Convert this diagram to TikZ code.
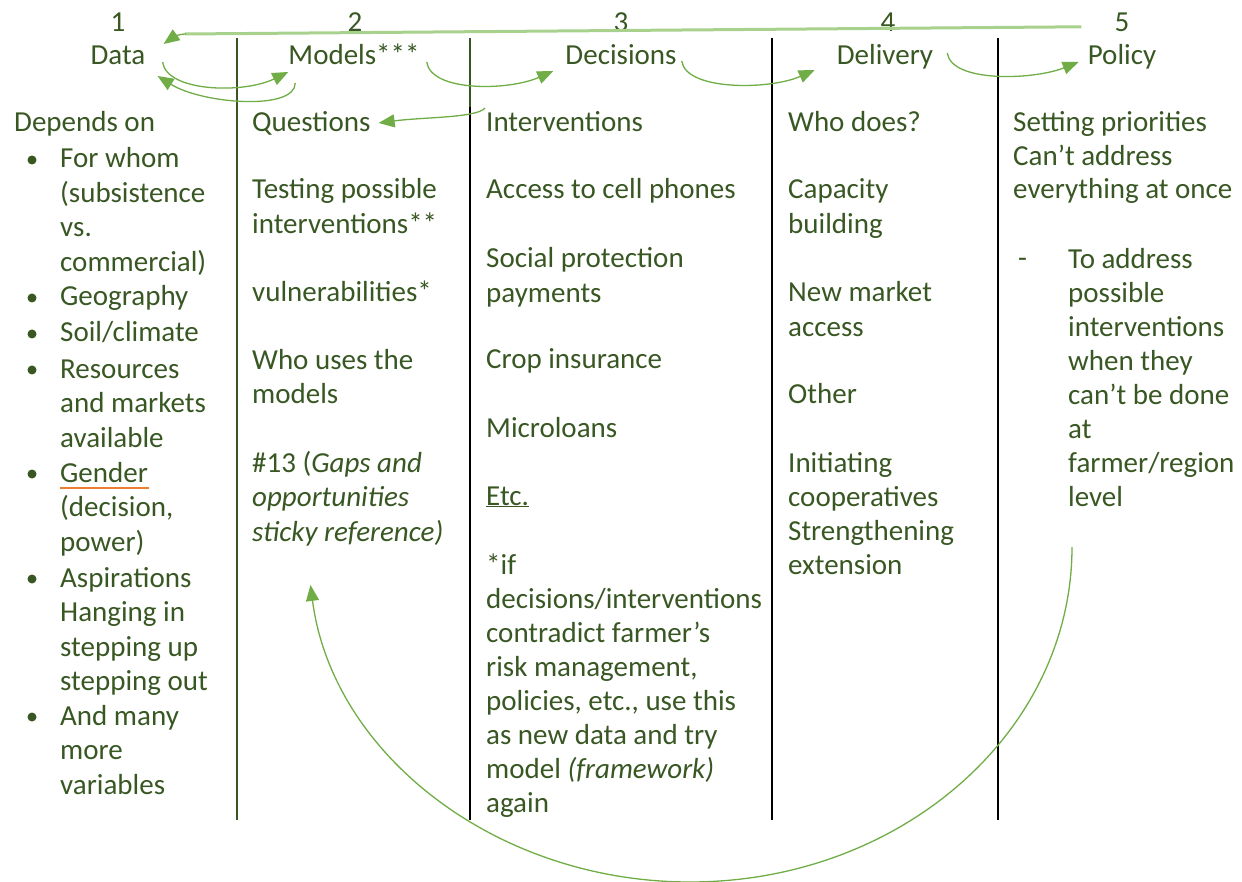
\documentclass[tikz,border=0pt]{standalone}
\usepackage{fontspec}
\setmainfont{Carlito}
\usetikzlibrary{arrows.meta,calc}

\definecolor{txtgreen}{HTML}{385723}
\definecolor{flowgreen}{HTML}{70AD47}
\definecolor{linegreen}{HTML}{A9D18E}
\definecolor{ulorange}{HTML}{ED7D31}

\begin{document}
\begin{tikzpicture}[
        x = 1pt, y = -1pt,
        line join=round,
        txt/.style = {anchor=base west, inner sep=0pt, align=left, text=txtgreen,
                      font=\fontsize{29}{34.5}\selectfont},
        head/.style = {anchor=base, inner sep=0pt, text=txtgreen,
                       font=\fontsize{29}{34.5}\selectfont},
        colrule/.style = {line width=2pt},
        flow/.style = {flowgreen, line width=1.3pt, -{Triangle[length=16pt,width=13pt]}}
    ]
        \useasboundingbox (0,0) rectangle (1242,882);

        % column numbers and titles
        \node[head] (n1) at (118,32) {1};
        \node[head] (n2) at (355,32) {2};
        \node[head] (n3) at (621,32) {3};
        \node[head] (n4) at (888,32) {4};
        \node[head] (n5) at (1122,32) {5};

        \node[head] (data) at (118,65) {Data};
        \node[head] (models) at (354,65) {Models***};
        \node[head] (decisions) at (621,65) {Decisions};
        \node[head] (delivery) at (885,65) {Delivery};
        \node[head] (policy) at (1122,65) {Policy};

        % column separators
        \draw[colrule, txtgreen] (237,38) -- (237,820);
        \draw[colrule, txtgreen] (470,38) -- (470,107);
        \draw[colrule] (470,107) -- (470,820);
        \draw[colrule] (772,38) -- (772,820);
        \draw[colrule] (998,38) -- (998,820);

        % column 1 (nodes sit on the baseline of their last line)
        \node[txt] (dep) at (14,132) {Depends on};
        \node[txt] (b1) at (60,271.5) {For whom\\(subsistence\\vs.\\commercial)};
        \node[txt] (b2) at (60,306) {Geography};
        \node[txt] (b3) at (60,342) {Soil/climate};
        \node[txt] (b4) at (60,447) {Resources\\and markets\\available};
        \node[txt] (b5) at (60,551) {Gender\\(decision,\\power)};
        \node[txt] (b6) at (60,690.5) {Aspirations\\Hanging in\\stepping up\\stepping out};
        \node[txt] (b7) at (60,794) {And many\\more\\variables};
        \foreach \y in {168,306,342,378,482,587,725}
            \fill[txtgreen] (32,\y-8) circle (4.5);
        \draw[ulorange, line width=1.6pt] (60,488) -- (149,488);

        % column 2
        \node[txt] (quest) at (252,132) {Questions};
        \node[txt] (test) at (252,233.5) {Testing possible\\interventions**};
        \node[txt] (vuln) at (252,302) {vulnerabilities*};
        \node[txt] (users) at (252,403.5) {Who uses the\\models};
        \node[txt] (gaps) at (252,541) {\#13 (\textit{Gaps and}\\\textit{opportunities}\\\textit{sticky reference)}};

        % column 3
        \node[txt] (interv) at (486,132) {Interventions};
        \node[txt] (phones) at (486,199) {Access to cell phones};
        \node[txt] (social) at (486,302.5) {Social protection\\payments};
        \node[txt] (crop) at (486,369) {Crop insurance};
        \node[txt] (micro) at (486,437) {Microloans};
        \node[txt] (etc) at (486,505) {\underline{Etc.}};
        \node[txt, font=\fontsize{29}{34}\selectfont] (note) at (486,812)
            {*if\\decisions/interventions\\contradict farmer’s\\risk management,\\policies, etc., use this\\as new data and try\\model \textit{(framework)}\\again};

        % column 4
        \node[txt] (whodoes) at (788,132) {Who does?};
        \node[txt] (capacity) at (788,233.5) {Capacity\\building};
        \node[txt] (market) at (788,336.5) {New market\\access};
        \node[txt] (other) at (788,403) {Other};
        \node[txt, font=\fontsize{29}{34}\selectfont] (coop) at (788,574) {Initiating\\cooperatives\\Strengthening\\extension};

        % column 5
        \node[txt, font=\fontsize{29}{33.5}\selectfont] (prio) at (1013,199) {Setting priorities\\Can’t address\\everything at once};
        \node[txt] (dash) at (1018,268) {-};
        \node[txt, font=\fontsize{29}{34}\selectfont] (address) at (1068,506)
            {To address\\possible\\interventions\\when they\\can’t be done\\at\\farmer/region\\level};

        % flow between the columns
        \draw[linegreen, line width=3pt] ($(n5.west)+(-33,4)$) -- (185,34);
        \draw[flow] (186,34) .. controls (178,34) and (172,38) .. ($(data.base east)+(18,-21)$);

        \draw[flow] ($(data.base east)+(17,-3)$) .. controls +(4,30) and +(-45,22) .. ($(models.base west)+(0,7)$);
        \draw[flow] ($(models.base west)+(7,18)$) .. controls +(0,28) and +(45,28) .. ($(data.base east)+(12,11)$);
        \draw[flow] ($(models.base east)+(7,-3)$) .. controls +(4,30) and +(-45,20) .. ($(decisions.base west)+(-12,6)$);
        \draw[flow] ($(decisions.base east)+(5,-4)$) .. controls +(4,30) and +(-45,20) .. ($(delivery.base west)+(-22,5)$);
        \draw[flow] ($(delivery.base east)+(14,-12)$) .. controls +(4,30) and +(-45,18) .. ($(policy.base west)+(-9,-3)$);
        \draw[flow] ($(interv.base west)+(-1,-24)$) .. controls +(-8,10) and +(45,-6) .. ($(quest.base east)+(8,-9)$);

        % loop back from policy to the models
        \coordinate (loopstart) at (1072,547);
        \coordinate (loopend) at (306,585);
        \draw[flow] (loopstart) arc[start angle=0, end angle=173.5, x radius=382, y radius=335];
    \end{tikzpicture}
\end{document}
